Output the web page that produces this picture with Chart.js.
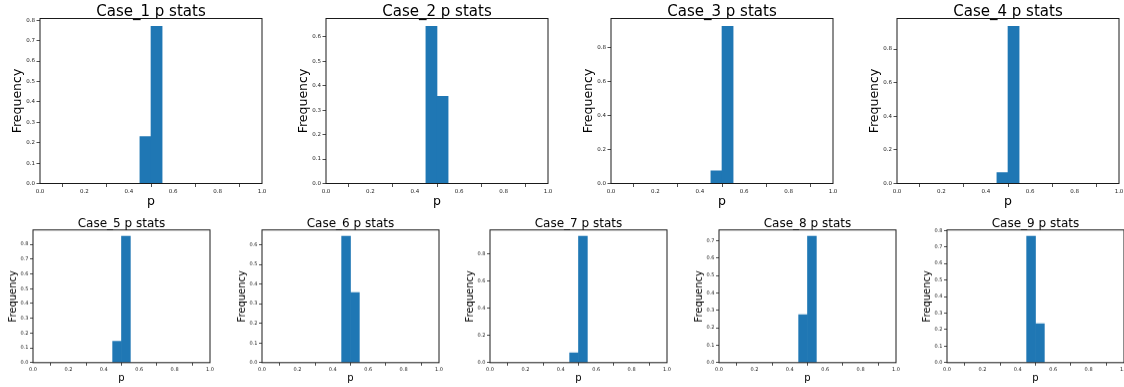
<!DOCTYPE html>
<html lang="en">
<head>
  <meta charset="UTF-8">
  <title>p stats</title>
  <script src="https://cdn.jsdelivr.net/npm/chart.js@4.4.0/dist/chart.umd.min.js"></script>
  <style>
    html, body { margin: 0; padding: 0; background: #fff; overflow: hidden; }
    body { width: 1124px; height: 387px; position: relative; }
    .panel { position: absolute; }
  </style>
</head>
<body>
<script>
  // histogram bins (left edges) + width
  const binLeft = [0.45, 0.50];
  const binWidth = 0.05;

  const caseNames = ['Case_1', 'Case_2', 'Case_3', 'Case_4', 'Case_5', 'Case_6', 'Case_7', 'Case_8', 'Case_9'];

  const freq1 = [0.23, 0.77];
  const freq2 = [0.643, 0.357];
  const freq3 = [0.075, 0.925];
  const freq4 = [0.065, 0.935];
  const freq5 = [0.145, 0.855];
  const freq6 = [0.643, 0.357];
  const freq7 = [0.072, 0.928];
  const freq8 = [0.275, 0.725];
  const freq9 = [0.765, 0.235];
  const allFreq = [freq1, freq2, freq3, freq4, freq5, freq6, freq7, freq8, freq9];

  // y tick step per panel, x ticks 0.0 .. 1.0
  const yStep = [0.1, 0.1, 0.2, 0.2, 0.1, 0.1, 0.2, 0.1, 0.1];
  const xStep = 0.2;

  // panel geometry: top row has 4 plots, bottom row 5
  const rows = [
    { lefts: [40, 325.5, 611, 896.5], top: 18, w: 222, h: 165, yW: 40, xH: 26,
      titleSize: 15, titlePadTop: 3, titlePadBottom: 0.5,
      labelSize: 12.5, tickSize: 5.5, tickLen: 3.5, yTitlePad: 11, xTitlePad: 1.75 },
    { lefts: [33.3, 261.8, 490.3, 718.8, 947.3], top: 230, w: 177, h: 132, yW: 33, xH: 25,
      titleSize: 12, titlePadTop: 3, titlePadBottom: 1.2,
      labelSize: 10, tickSize: 5, tickLen: 3, yTitlePad: 8.5, xTitlePad: 4.2 }
  ];
  const rightPad = 10;
  const titleLH = 0.8;

  const frame = {
    id: 'frame',
    afterDatasetsDraw(chart) {
      const a = chart.chartArea;
      const ctx = chart.ctx;
      ctx.save();
      ctx.strokeStyle = '#1a1a1a';
      ctx.lineWidth = 1;
      ctx.strokeRect(a.left, a.top, a.right - a.left, a.bottom - a.top);
      ctx.restore();
    }
  };

  Chart.defaults.font.family = '"DejaVu Sans", sans-serif';
  Chart.defaults.color = '#222';

  let idx = 0;
  rows.forEach(row => {
    const tH = row.titlePadTop + row.titleSize * titleLH + row.titlePadBottom;
    row.lefts.forEach(left => {
      const i = idx++;
      const freq = allFreq[i];
      const div = document.createElement('div');
      div.className = 'panel';
      div.style.left = (left - row.yW) + 'px';
      div.style.top = (row.top - tH) + 'px';
      div.style.width = (row.yW + row.w + rightPad) + 'px';
      div.style.height = (tH + row.h + row.xH) + 'px';
      const canvas = document.createElement('canvas');
      div.appendChild(canvas);
      document.body.appendChild(div);

      const step = yStep[i];
      const tickFont = { size: row.tickSize, lineHeight: 1 };

      new Chart(canvas, {
        type: 'bar',
        data: {
          datasets: [{
            data: binLeft.map((b, k) => ({ x: b + binWidth / 2, y: freq[k] })),
            backgroundColor: '#1f77b4',
            borderWidth: 0,
            barPercentage: 1,
            categoryPercentage: 1
          }]
        },
        options: {
          responsive: true,
          maintainAspectRatio: false,
          animation: false,
          devicePixelRatio: 1,
          layout: { padding: { left: 0, right: rightPad, top: 0, bottom: 0 } },
          plugins: {
            legend: { display: false },
            tooltip: { enabled: false },
            title: {
              display: true,
              text: caseNames[i] + ' p stats',
              fullSize: false,
              color: '#000',
              font: { size: row.titleSize, weight: 'normal', lineHeight: titleLH },
              padding: { top: row.titlePadTop, bottom: row.titlePadBottom }
            }
          },
          scales: {
            x: {
              type: 'linear',
              offset: false,
              min: 0,
              max: 1,
              afterFit: s => { s.height = row.xH; },
              border: { display: false },
              grid: { drawOnChartArea: false, drawTicks: true, tickLength: row.tickLen, color: '#222', lineWidth: 0.8 },
              ticks: {
                stepSize: xStep, autoSkip: false, maxRotation: 0, minRotation: 0, padding: 1.5,
                font: tickFont, callback: v => Number(v).toFixed(1)
              },
              title: {
                display: true, text: 'p', color: '#000',
                font: { size: row.labelSize, lineHeight: 1 },
                padding: { top: 0, bottom: row.xTitlePad }
              }
            },
            y: {
              min: 0,
              max: Math.max(...freq) * 1.05,
              afterFit: s => { s.width = row.yW; },
              border: { display: false },
              grid: { drawOnChartArea: false, drawTicks: true, tickLength: row.tickLen, color: '#222', lineWidth: 0.8 },
              ticks: {
                stepSize: step, includeBounds: false, padding: 1.5,
                font: tickFont, callback: v => Number(v).toFixed(1)
              },
              title: {
                display: true, text: 'Frequency', color: '#000',
                font: { size: row.labelSize, lineHeight: 1 },
                padding: { top: row.yTitlePad, bottom: 0 }
              }
            }
          }
        },
        plugins: [frame]
      });
    });
  });
</script>
</body>
</html>
